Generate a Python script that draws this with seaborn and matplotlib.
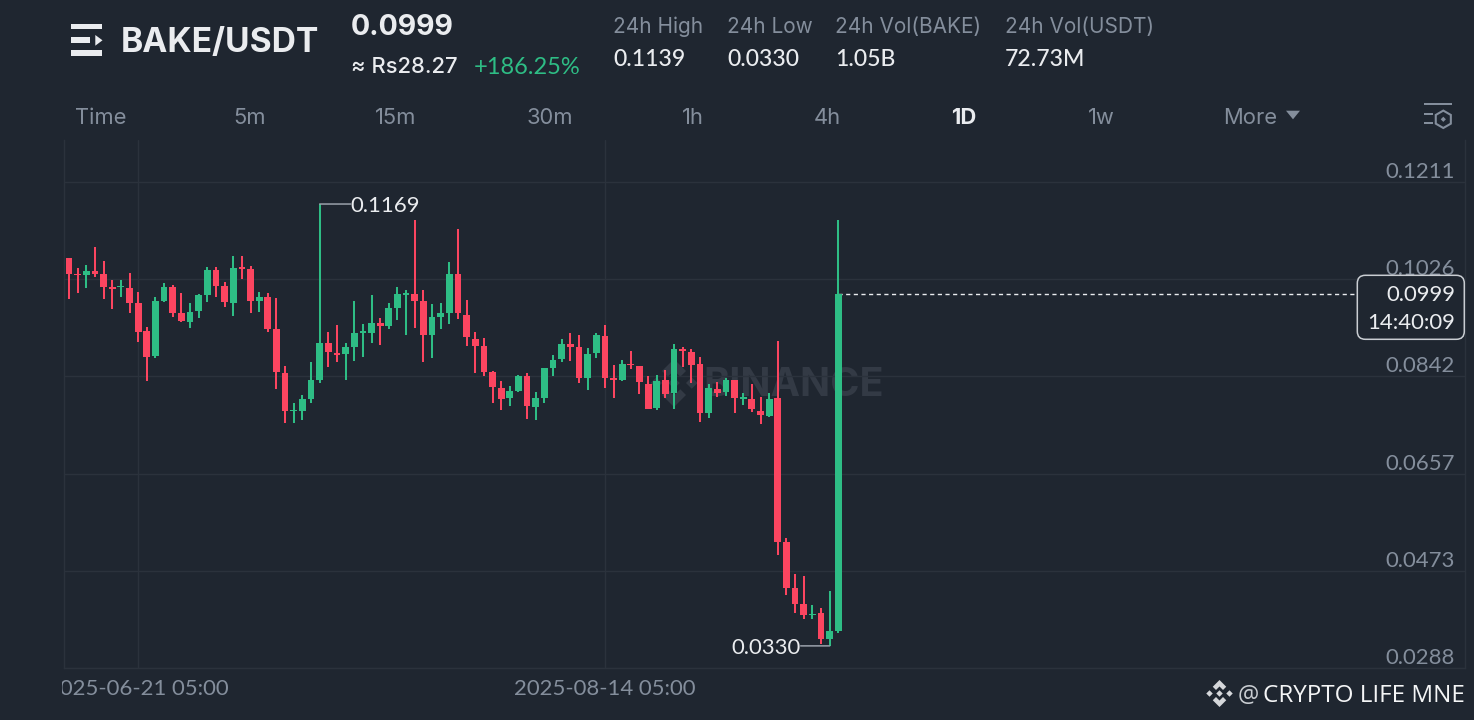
import numpy as np
import pandas as pd
import seaborn as sns
import matplotlib
matplotlib.use("Agg")
import matplotlib.pyplot as plt
from matplotlib.patches import Polygon, Rectangle, FancyBboxPatch, RegularPolygon
from matplotlib.transforms import Bbox

opens = [.10667,.10369,.10337,.10420,.10369,.10109,.10109,.10097,.09806,.09274,.08799,.09850,.10116,.09628,.09457,.09654,
         .09958,.10439,.10135,.09812,.10496,.10458,.09844,.09926,.09312,.08482,.07754,.07761,.07989,.08343,.09052,.08869,
         .08843,.08976,.09242,.09242,.09426,.09375,.09723,.09970,.09983,.09850,.09204,.09554,.09628,.10369,.09578,.09135,
         .08989,.08495,.08198,.08001,.08147,.08432,.07843,.08014,.08577,.08742,.09040,.08970,.08388,.08862,.09191,.08381,
         .08349,.08660,.08622,.08280,.07811,.08349,.08109,.08945,.08888,.08647,.07717,.08172,.08115,.08356,.07989,.07982,
         .07767,.07672,.08001,.05267,.04394,.04090,.03887,.03919,.03425,.03588]
highs = [.10667,.10470,.10540,.10875,.10603,.10249,.10242,.10375,.10014,.09350,.09926,.10198,.10147,.09995,.09806,.09989,
         .10496,.10496,.10217,.10711,.10711,.10515,.10014,.09995,.09907,.08609,.07919,.08071,.08685,.11692,.09255,.09388,
         .09046,.09844,.09407,.09958,.09521,.09818,.10122,.10059,.11388,.10052,.09787,.09812,.10584,.11217,.09869,.09255,
         .09154,.08514,.08337,.08242,.08438,.08476,.08128,.08571,.08819,.09135,.09248,.09198,.08951,.09248,.09394,.08628,
         .08723,.08900,.08622,.08419,.08444,.08546,.09027,.08976,.08932,.08780,.08274,.08318,.08388,.08356,.08109,.08274,
         .08027,.08096,.09084,.05343,.04665,.04622,.04082,.04025,.04348,.11388]
lows = [.09888,.10008,.10103,.10306,.09894,.09704,.09926,.09628,.09065,.08337,.08774,.09831,.09552,.09451,.09343,.09533,
        .09837,.09926,.09730,.09571,.10268,.09628,.09647,.09268,.08185,.07526,.07526,.07596,.07919,.08286,.08603,.08685,
        .08356,.08717,.08786,.09046,.09014,.09318,.09483,.09211,.09331,.08698,.08774,.09325,.09413,.09502,.08995,.08482,
        .08432,.07919,.07786,.07856,.08122,.07602,.07596,.07913,.08426,.08698,.08710,.08286,.08160,.08761,.08204,.08014,
        .08337,.08552,.08090,.07792,.07780,.08001,.07792,.08603,.08299,.07558,.07634,.08027,.08052,.07723,.07881,.07748,
        .07514,.07653,.05032,.04272,.03930,.03811,.03816,.03342,.03300,.03539]
closes = [.10369,.10337,.10420,.10369,.10116,.10078,.10135,.09812,.09261,.08786,.09844,.10116,.09622,.09470,.09647,.09958,
          .10439,.10135,.09831,.10477,.10464,.09844,.09932,.09318,.08495,.07754,.07786,.07989,.08343,.09059,.08888,.08831,
          .08976,.09236,.09280,.09426,.09375,.09723,.09983,.10008,.09856,.09204,.09554,.09628,.10369,.09616,.09172,.08995,
          .08495,.08223,.07989,.08141,.08432,.07856,.08014,.08571,.08729,.09033,.08982,.08388,.08850,.09204,.08394,.08349,
          .08653,.08628,.08305,.07799,.08330,.08090,.08938,.08894,.08641,.07729,.08198,.08109,.08356,.08001,.08020,.07792,
          .07685,.07995,.05273,.04394,.04101,.03892,.03911,.03425,.03583,.09990]

price_ticks = [0.0288, 0.0473, 0.0657, 0.0842, 0.1026, 0.1211]
price_labels = ["0.0288", "0.0473", "0.0657", "0.0842", "0.1026", "0.1211"]
date_ticks = [8, 62]
date_labels = ["2025-06-21 05:00", "2025-08-14 05:00"]
tabs = ["Time", "5m", "15m", "30m", "1h", "4h", "1D", "1w", "More"]
stat_names = ["24h High", "24h Low", "24h Vol(BAKE)", "24h Vol(USDT)"]
stat_values = ["0.1139", "0.0330", "1.05B", "72.73M"]

BG = "#1F2630"
GRID = "#2B323C"
GREEN = "#2EBD85"
RED = "#FB4560"
GREY = "#848E9C"
LIGHT = "#EAECEF"
FONT = "Inter"
NUM = "Lato"
NUM_SIZE = 15.9

W, H = 1474, 720
sns.set_theme(style="dark")
plt.rcParams["font.family"] = [FONT, "DejaVu Sans"]
fig = plt.figure(figsize=(W / 100, H / 100), dpi=100, facecolor=BG)

def px_axes(z):
    a = fig.add_axes([0, 0, 1, 1], zorder=z)
    a.set_xlim(0, W)
    a.set_ylim(H, 0)
    a.axis("off")
    a.patch.set_visible(False)
    return a

under = px_axes(0)
over = px_axes(2)

def logo(a, cx, cy, r, color):
    def diamond(dx, dy, s):
        return [(dx, dy - s), (dx + s, dy), (dx, dy + s), (dx - s, dy)]
    shapes = [diamond(0, 0, .24), diamond(-.74, 0, .24), diamond(.74, 0, .24),
              [(0, -1), (.5, -.5), (.26, -.26), (0, -.52), (-.26, -.26), (-.5, -.5)],
              [(0, 1), (.5, .5), (.26, .26), (0, .52), (-.26, .26), (-.5, .5)]]
    for s in shapes:
        a.add_patch(Polygon([(cx + x * r, cy + y * r) for x, y in s], closed=True, fc=color, ec="none"))

# watermark behind the candles
logo(under, 674, 383, 24, "#333A45")
under.text(703, 386, "BINANCE", color="#333A45", fontsize=28.5, fontweight="bold", va="center", ha="left")

# candle chart
ax = fig.add_axes([64 / W, (H - 668) / H, (1465 - 64) / W, 528 / H], zorder=1)
ax.patch.set_visible(False)
df = pd.DataFrame({"day": np.arange(len(opens)), "open": opens, "high": highs, "low": lows, "close": closes})
df["bottom"] = df[["open", "close"]].min(axis=1)
df["body"] = (df["open"] - df["close"]).abs()
df["up"] = df["close"] >= df["open"]
for is_up, color in [(True, GREEN), (False, RED)]:
    sub = df[df["up"] == is_up]
    sns.barplot(data=sub, x="day", y="body", native_scale=True, width=0.78, color=color, saturation=1,
                bottom=sub["bottom"].values, errorbar=None, linewidth=0, ax=ax, zorder=3)
    ax.vlines(sub["day"], sub["low"], sub["high"], color=color, lw=1.45, zorder=3)

ax.set_xlim(-0.578, 161.5)
ax.set_ylim(0.0288, 0.12908)
ax.set_xlabel("")
ax.set_ylabel("")
ax.set_yticks(price_ticks, [""] * len(price_ticks))
ax.set_xticks(date_ticks, date_labels, family=NUM)
ax.grid(True, color=GRID, lw=1)
ax.set_axisbelow(True)
for name, sp in ax.spines.items():
    sp.set_visible(name in ("left", "right", "bottom"))
    sp.set_color(GRID)
    sp.set_linewidth(1)
ax.tick_params(axis="y", length=0)
ax.tick_params(axis="x", length=0, pad=8, labelsize=NUM_SIZE, labelcolor=GREY)
clip = Bbox([[62, 0], [W, H]])
for lb in ax.get_xticklabels():
    lb.set_clip_box(clip)
    lb.set_clip_on(True)
yt = ax.get_yaxis_transform()
for v, s in zip(price_ticks, price_labels):
    ax.text(1 - 10 / 1401, v, s, transform=yt, color=GREY, fontsize=NUM_SIZE, family=NUM, ha="right", va="bottom")

# high / low callouts and last-price line
hi_i = int(df["high"].iloc[:60].idxmax())
lo_i = int(df["low"].idxmin())
for label, i, val, off, ha in [("0.1169", hi_i, df["high"][hi_i], 31, "left"), ("0.0330", lo_i, df["low"][lo_i], -29, "right")]:
    ax.annotate("", xy=(i, val), xytext=(off, 0), textcoords="offset pixels",
                arrowprops=dict(arrowstyle="-", color="#9AA1AB", lw=1.1, shrinkA=0, shrinkB=0))
    ax.annotate(label, xy=(i, val), xytext=(off, 0), textcoords="offset pixels", color=LIGHT, family=NUM,
                fontsize=NUM_SIZE, va="center_baseline", ha=ha)
ax.plot([df["day"].iloc[-1], 161.5], [closes[-1], closes[-1]], color=LIGHT, lw=1, ls=(0, (3, 2.5)), zorder=2)

# last-price badge
over.add_patch(FancyBboxPatch((1364.3, 282.3), 93, 50, boxstyle="round,pad=7,rounding_size=8", fc=BG, ec="#C9CDD2", lw=1.1, zorder=4))
over.text(1455, 295, "0.0999", color=LIGHT, fontsize=NUM_SIZE, family=NUM, ha="right", va="center", zorder=5)
over.text(1455, 323, "14:40:09", color=LIGHT, fontsize=NUM_SIZE, family=NUM, ha="right", va="center", zorder=5)

# header
for (x0, y0, x1, y1) in [(71, 24, 102.5, 28.7), (71, 36.7, 90, 43), (71, 50, 102.5, 55.7)]:
    over.add_patch(Rectangle((x0, y0), x1 - x0, y1 - y0, fc=LIGHT, ec="none"))
over.add_patch(Polygon([(95.3, 35), (102.5, 40.3), (95.3, 45.7)], fc=LIGHT, ec="none"))
over.text(121, 42.5, "BAKE/USDT", color=LIGHT, fontsize=24.2, fontweight="bold", va="center")
over.text(351, 27.5, "0.0999", color=LIGHT, fontsize=20.5, fontweight="bold", va="center")
over.text(351, 67, "≈ Rs28.27", color=LIGHT, fontsize=15.8, fontweight="medium", va="center")
over.text(474, 67, "+186.25%", color=GREEN, family=NUM, fontsize=17, va="center")
for x, n, v in zip([613, 727, 835, 1005], stat_names, stat_values):
    over.text(x, 27, n, color=GREY, fontsize=15, va="center")
    over.text(x, 59, v, color=LIGHT, family=NUM, fontsize=16.6, fontweight="medium", va="center")

# interval tabs
for t, x in zip(tabs, [101, 250, 396, 550, 693, 827, 964, 1101, 1250]):
    on = t == "1D"
    over.text(x, 118, t, color=LIGHT if on else GREY, fontsize=15.8, ha="center", va="center",
              fontweight="bold" if on else "normal")
over.add_patch(Polygon([(1286, 110.7), (1300, 110.7), (1293, 119.3)], fc=GREY, ec="none"))

# settings icon
over.add_patch(Rectangle((1424, 103), 28, 2, fc=GREY, ec="none"))
over.add_patch(Rectangle((1424, 112.5), 9, 2, fc=GREY, ec="none"))
over.add_patch(Rectangle((1424, 122), 9, 2, fc=GREY, ec="none"))
over.add_patch(RegularPolygon((1443.3, 119.3), 6, radius=8.7, fc="none", ec=GREY, lw=1.5))
over.add_patch(RegularPolygon((1443.3, 119.3), 4, radius=2.6, fc=GREY, ec="none"))

# footer credit
logo(over, 1219.5, 693.5, 13.5, "#D5D7DA")
over.text(1238, 696, "@", color="#C9CDD2", fontsize=17, family="Open Sans", va="center")
over.text(1263, 695.5, "CRYPTO LIFE MNE", color="#F4F5F6", fontsize=17.5, family="Open Sans", va="center")

fig.savefig("out.png", dpi=100, facecolor=BG)
